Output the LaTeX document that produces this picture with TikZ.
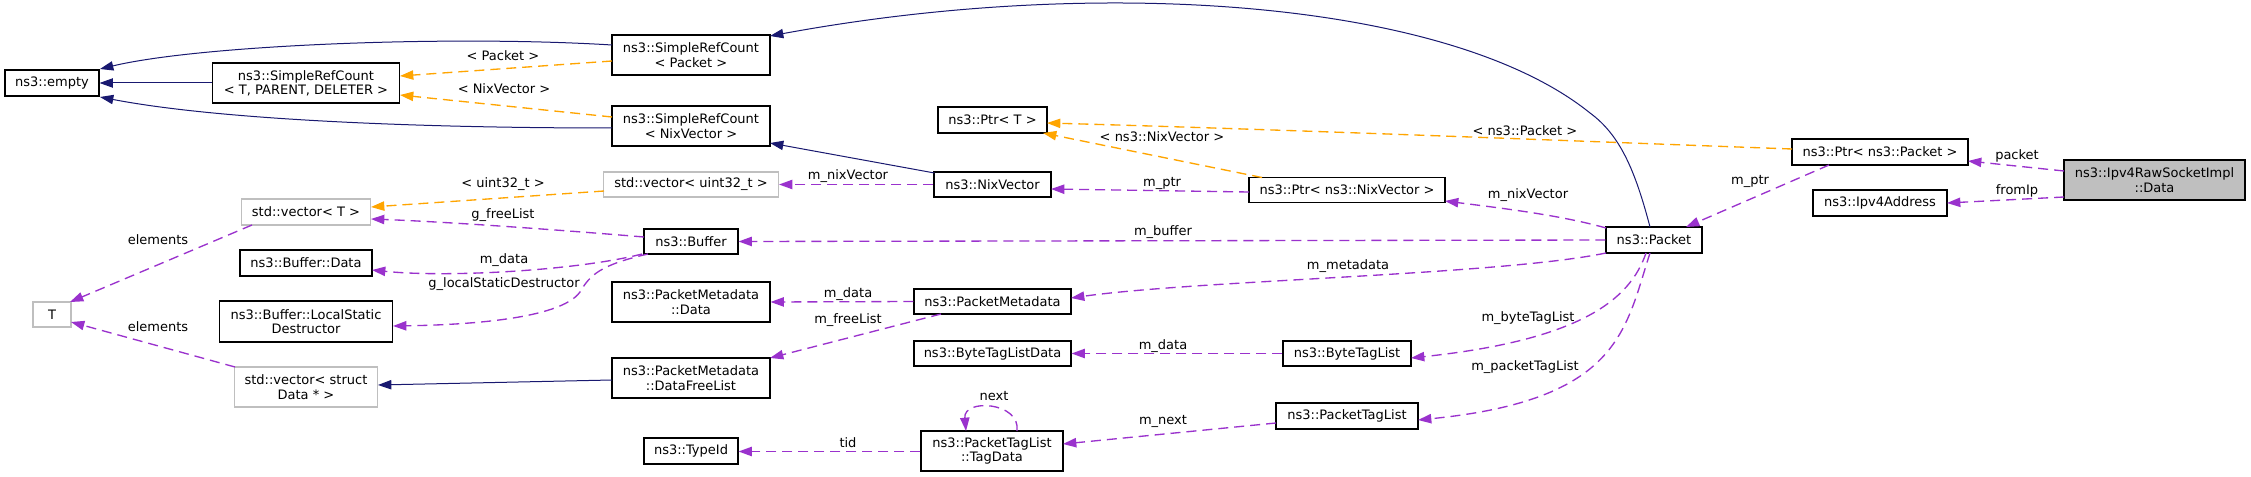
\documentclass[tikz,border=0pt]{standalone}
\usepackage{fontspec}
\setmainfont{DejaVu Sans}
\usetikzlibrary{arrows.meta,calc}
\definecolor{navy}{HTML}{191970}
\definecolor{orng}{HTML}{FFA500}
\definecolor{purp}{HTML}{9A32CD}
\definecolor{grayb}{HTML}{BFBFBF}
\begin{document}
\begin{tikzpicture}[x=0.75pt,y=-0.75pt,
  font=\fontsize{9.75}{10.75}\selectfont,
  box/.style={draw=black, line width=0.8pt, inner sep=0pt, align=center, fill=white},
  gbox/.style={box, draw=grayb},
  sz/.style 2 args={minimum width=#1*0.75pt, minimum height=#2*0.75pt},
  tip/.style={-{Triangle[length=10pt,width=7pt]}},
  inh/.style={draw=navy, line width=0.75pt, tip},
  usg/.style={draw=purp, fill=none, line width=1pt, dash pattern=on 7.5pt off 4.5pt, tip},
  tmpl/.style={draw=orng, fill=none, line width=1pt, dash pattern=on 7.5pt off 4.5pt, tip},
  lbl/.style={inner sep=0pt}]
\fill[white] (0,0) rectangle (2251,477);
\useasboundingbox (0,0) rectangle (2251,477);

% nodes
\node[box, sz={94}{26}] (empty) at (52,83) {ns3::empty};
\node[box, sz={187}{40}] (srcT) at (306,83) {ns3::SimpleRefCount\\< T, PARENT, DELETER >};
\node[box, sz={158}{40}] (srcp) at (691,55) {ns3::SimpleRefCount\\< Packet >};
\node[box, sz={158}{40}] (srcn) at (691,126) {ns3::SimpleRefCount\\< NixVector >};
\node[box, sz={109}{26}] (ptrT) at (992.5,120) {ns3::Ptr< T >};
\node[gbox, sz={175}{25}] (vecu) at (691,184.5) {std::vector< uint32\_t >};
\node[box, sz={117}{25}] (nixv) at (992.5,184.5) {ns3::NixVector};
\node[box, sz={196}{25}] (ptrnix) at (1347,190) {ns3::Ptr< ns3::NixVector >};
\node[box, sz={176}{26}] (ptrpkt) at (1880,152) {ns3::Ptr< ns3::Packet >};
\node[box, fill=grayb, sz={181}{40}] (ipv4data) at (2154.5,180) {ns3::Ipv4RawSocketImpl\\::Data};
\node[box, sz={134}{26}] (ipv4addr) at (1880,203) {ns3::Ipv4Address};
\node[box, sz={96}{26}] (packet) at (1654,240) {ns3::Packet};
\node[gbox, sz={129}{26}] (vecT) at (306,212) {std::vector< T >};
\node[box, sz={94}{25}] (buffer) at (691,241.5) {ns3::Buffer};
\node[box, sz={132}{26}] (bufdata) at (306,263) {ns3::Buffer::Data};
\node[box, sz={173}{41}] (buflsd) at (306,321.5) {ns3::Buffer::LocalStatic\\Destructor};
\node[gbox, sz={38}{25}] (T) at (52,314.5) {T};
\node[box, sz={158}{40}] (pmdata) at (691,302) {ns3::PacketMetadata\\::Data};
\node[box, sz={157}{25}] (pm) at (992.5,301.5) {ns3::PacketMetadata};
\node[gbox, sz={143}{40}] (vecstruct) at (306,387) {std::vector< struct\\Data * >};
\node[box, sz={158}{40}] (dfl) at (691,378) {ns3::PacketMetadata\\::DataFreeList};
\node[box, sz={157}{25}] (btld) at (992.5,353.5) {ns3::ByteTagListData};
\node[box, sz={128}{25}] (btl) at (1347,353.5) {ns3::ByteTagList};
\node[box, sz={142}{26}] (ptl) at (1347,416) {ns3::PacketTagList};
\node[box, sz={142}{40}] (tagdata) at (992,451) {ns3::PacketTagList\\::TagData};
\node[box, sz={94}{26}] (typeid) at (691,451) {ns3::TypeId};

% inheritance (navy)
\draw[inh] ($(srcp)+(-79,-10)$) .. controls (450,35) and (200,45) .. ($(empty)+(48,-14)$);
\draw[inh] (srcT.west) -- (empty.east);
\draw[inh] ($(srcn)+(-79,2)$) .. controls (420,128) and (220,120) .. ($(empty)+(48,14)$);
\draw[inh] ($(packet)+(-4,-13)$) .. controls (1635,170) and (1620,135) .. (1590,113)
   .. controls (1450,0) and (1100,-25) .. ($(srcp)+(79,-19)$);
\draw[inh] ($(nixv)+(-58,-11.5)$) -- ($(srcn)+(79,17)$);
\draw[inh] ($(dfl)+(-79,2)$) -- ($(vecstruct)+(72,-2)$);

% template instantiation (orange)
\draw[tmpl] ($(srcp)+(-79,6)$) -- ($(srcT)+(94,-7)$);
\draw[tmpl] ($(srcn)+(-79,-9)$) -- ($(srcT)+(94,12)$);
\draw[tmpl] ($(vecu)+(-87,6.5)$) -- ($(vecT)+(65,-5)$);
\draw[tmpl] ($(ptrnix)+(-85,-12.5)$) -- ($(ptrT)+(50.5,13)$);
\draw[tmpl] ($(ptrpkt)+(-88,-3)$) .. controls (1600,142) and (1300,130) .. ($(ptrT)+(54.5,3)$);

% usage (purple)
\draw[usg] (nixv.west) -- (vecu.east);
\draw[usg] ($(buffer)+(-47,-4.5)$) .. controls (560,230) and (450,222) .. ($(vecT)+(65,7)$);
\draw[usg] ($(vecT)+(-54,13)$) -- ($(T)+(18,-12.5)$);
\draw[usg] ($(vecstruct)+(-71,-20)$) -- ($(T)+(19,7.5)$);
\draw[usg] ($(buffer)+(-49,12.5)$) .. controls (580,270) and (450,278) .. ($(bufdata)+(66,7)$);
\draw[usg] ($(buffer)+(-43,12.5)$) .. controls (600,265) and (590,275) .. (580,292)
   .. controls (560,320) and (460,325) .. ($(buflsd)+(87,4.5)$);
\draw[usg] (packet.west) -- (buffer.east);
\draw[usg] ($(packet)+(-48,13)$) .. controls (1500,275) and (1200,280) .. ($(pm)+(78.5,-3.5)$);
\draw[usg] (pm.west) -- (pmdata.east);
\draw[usg] ($(pm)+(-51.5,12.5)$) -- ($(dfl)+(79,-20)$);
\draw[usg] (btl.west) -- (btld.east);
\draw[usg] ($(packet)+(-8,13)$) .. controls (1630,300) and (1580,340) .. ($(btl)+(64,4.5)$);
\draw[usg] ($(packet)+(-4,13)$) .. controls (1625,330) and (1620,400) .. ($(ptl)+(71,4)$);
\draw[usg] ($(ptl)+(-71,7)$) -- ($(tagdata)+(71,-7)$);
\draw[usg] ($(tagdata.west)+(0,0.5)$) -- ($(typeid.east)+(0,0.5)$);
\draw[usg] ($(tagdata)+(25,-20)$) .. controls (1021,402) and (963,398) .. ($(tagdata)+(-26,-20)$);
\draw[usg] ($(ptrnix)+(-98,2)$) -- ($(nixv)+(58.5,4.5)$);
\draw[usg] ($(packet)+(-48,-12)$) .. controls (1560,215) and (1500,208) .. ($(ptrnix)+(98,11)$);
\draw[usg] ($(ptrpkt)+(-51,13)$) -- ($(packet)+(32,-13)$);
\draw[usg] ($(ipv4data)+(-90.5,-9)$) -- ($(ptrpkt)+(88,9)$);
\draw[usg] ($(ipv4data)+(-90.5,17)$) -- ($(ipv4addr)+(67,0)$);

% labels
\node[lbl] (l1) at (503,56) {< Packet >};
\node[lbl] (l2) at (504,89) {< NixVector >};
\node[lbl] (l3) at (503,184) {< uint32\_t >};
\node[lbl] (l4) at (503,215) {g\_freeList};
\node[lbl] (l5) at (158,240) {elements};
\node[lbl] (l6) at (158,327) {elements};
\node[lbl] (l7) at (504,260) {m\_data};
\node[lbl] (l8) at (504,284) {g\_localStaticDestructor};
\node[lbl] (l9) at (848,176) {m\_nixVector};
\node[lbl] (l10) at (1162,137) {< ns3::NixVector >};
\node[lbl] (l11) at (1525,131) {< ns3::Packet >};
\node[lbl] (l12) at (1162,183) {m\_ptr};
\node[lbl] (l13) at (1528,195) {m\_nixVector};
\node[lbl] (l14) at (1163,232) {m\_buffer};
\node[lbl] (l15) at (1348,266) {m\_metadata};
\node[lbl] (l16) at (848,294) {m\_data};
\node[lbl] (l17) at (848,320) {m\_freeList};
\node[lbl] (l18) at (1528,318) {m\_byteTagList};
\node[lbl] (l19) at (1163,346) {m\_data};
\node[lbl] (l20) at (1525,367) {m\_packetTagList};
\node[lbl] (l21) at (994,396) {next};
\node[lbl] (l22) at (1163,421) {m\_next};
\node[lbl] (l23) at (848,443) {tid};
\node[lbl] (l24) at (1750,181) {m\_ptr};
\node[lbl] (l25) at (2017,156) {packet};
\node[lbl] (l26) at (2017,191) {fromIp};
\end{tikzpicture}
\end{document}
